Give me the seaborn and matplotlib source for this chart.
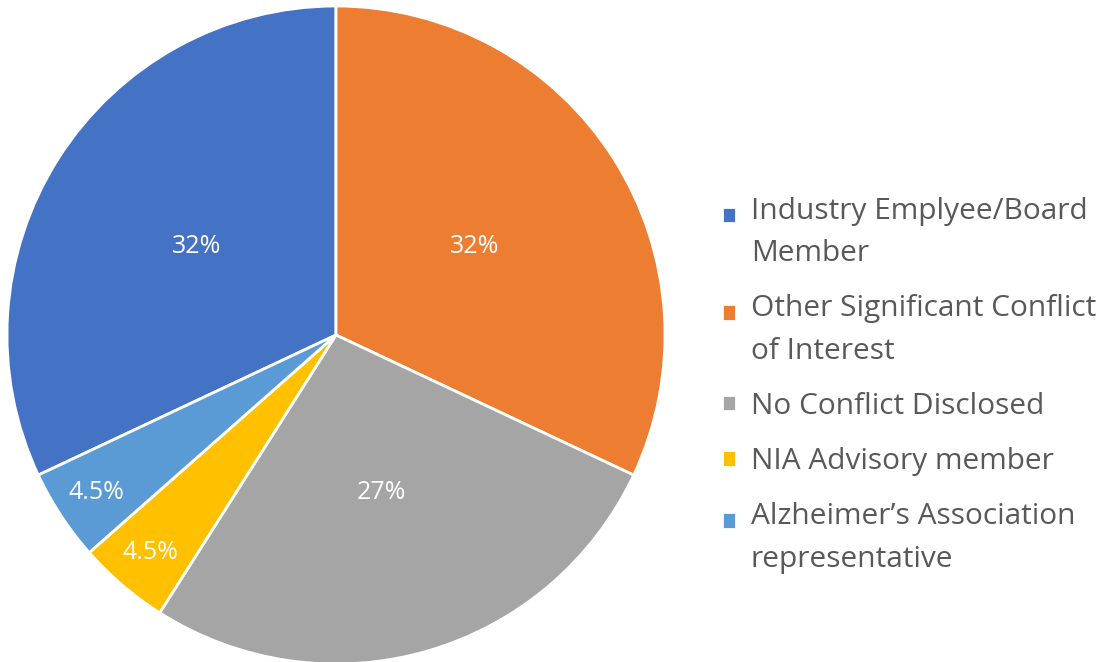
import matplotlib
matplotlib.use("Agg")
import matplotlib.pyplot as plt
import seaborn as sns
import numpy as np
from matplotlib.patches import Rectangle
from matplotlib.legend_handler import HandlerPatch

labels = ["Industry Emplyee/Board\nMember",
          "Other Significant Conflict\nof Interest",
          "No Conflict Disclosed",
          "NIA Advisory member",
          "Alzheimer\u2019s Association\nrepresentative"]
shares = [32, 32, 27, 4.5, 4.5]
pct_text = ["32%", "32%", "27%", "4.5%", "4.5%"]
colors = ["#4472C4", "#ED7D31", "#A5A5A5", "#FFC000", "#5B9BD5"]

sns.set_theme(style="white")
plt.rcParams["font.family"] = ["Open Sans", "DejaVu Sans"]

fig = plt.figure(figsize=(11.12, 6.62), dpi=100)
W, H = 1112, 662
cx, cy, r = 336, 335, 329
ax = fig.add_axes([(cx - r) / W, (H - cy - r) / H, 2 * r / W, 2 * r / H])

# Blue slice ends at 12 o'clock, then orange runs clockwise from the top
start = 90 + shares[0] * 3.6
wedges, _ = ax.pie(shares, colors=colors, startangle=start, counterclock=False,
                   radius=1, wedgeprops=dict(edgecolor="white", linewidth=2))
ax.set_xlim(-1, 1)
ax.set_ylim(-1, 1)
ax.set_aspect("auto")

for w, txt, s in zip(wedges, pct_text, shares):
    mid = np.deg2rad((w.theta1 + w.theta2) / 2)
    dist = 0.5 if s > 10 else 0.87
    ax.text(dist * np.cos(mid), dist * np.sin(mid), txt, ha="center", va="center",
            color="white", fontsize=18)


# square legend key next to the first line of a wrapped label
def square_key(n_lines):
    def make(legend, orig_handle, xdescent, ydescent, width, height, fontsize):
        shift = (n_lines - 1) * 0.5 * fontsize * 1.2
        return Rectangle((-xdescent, -ydescent + shift), width, height)
    return HandlerPatch(patch_func=make)


handler_map = {w: square_key(lab.count("\n") + 1) for w, lab in zip(wedges, labels)}

fs = 21.5
leg = fig.legend(wedges, labels, loc="center left", bbox_to_anchor=(0.625, 0.418),
                 frameon=False, fontsize=fs, handlelength=0.47, handleheight=0.47,
                 handletextpad=0.5, labelspacing=0.88, labelcolor="#595959",
                 handler_map=handler_map)
for t in leg.get_texts():
    t.set_linespacing(1.6)

fig.savefig("out.png", dpi=100)
